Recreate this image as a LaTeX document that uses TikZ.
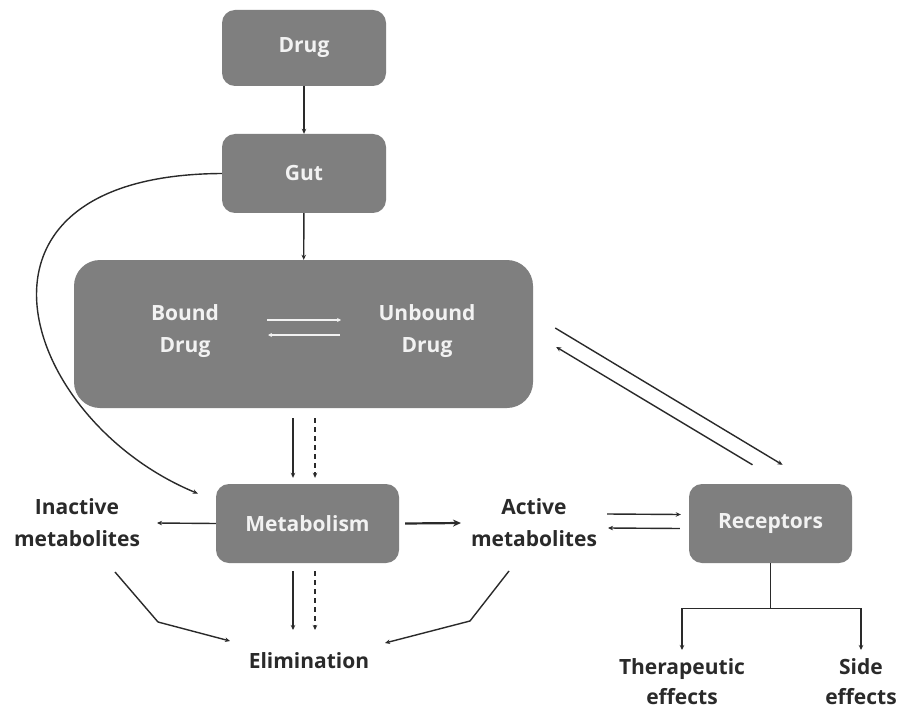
\documentclass[tikz,border=0pt]{standalone}
\usepackage{fontspec}
\setmainfont{Open Sans}
\usetikzlibrary{arrows.meta}
\definecolor{boxgray}{HTML}{7F7F7F}
\definecolor{boxtext}{HTML}{F2F2F2}
\definecolor{ink}{HTML}{2A2A2A}
\tikzset{
  box/.style={draw=none, fill=boxgray, rounded corners=13pt, text=boxtext, font=\fontsize{21}{32}\selectfont\bfseries, align=center, inner sep=0pt},
  lbl/.style={text=ink, font=\fontsize{21}{32}\selectfont\bfseries, align=center, inner sep=0pt},
  inlbl/.style={text=boxtext, font=\fontsize{21}{32}\selectfont\bfseries, align=center, inner sep=0pt},
  arr/.style={draw=ink, line width=1.4pt, -{Stealth[length=5pt,width=4.5pt]}},
  darr/.style={arr, dash pattern=on 5pt off 4pt},
  thickarr/.style={draw=ink, line width=2.2pt, -{Stealth[length=8pt,width=7pt]}},
  warr/.style={draw=boxtext, line width=1.5pt, -{Stealth[length=4pt,width=4pt]}},
  plain/.style={draw=ink, line width=1.4pt},
}
\begin{document}
\begin{tikzpicture}[x=1pt,y=-1pt]
\fill[white] (0,0) rectangle (901,711);
\useasboundingbox (0,0) rectangle (901,711);

% boxes
\node[box, minimum width=164pt, minimum height=76pt] (drug) at (304,48) {Drug};
\node[box, minimum width=164pt, minimum height=79pt] (gut) at (304,173.5) {Gut};
\node[box, rounded corners=26pt, minimum width=459pt, minimum height=148pt] (big) at (303.5,334) {};
\node[inlbl] (bound) at (185,331) {Bound\\Drug};
\node[inlbl] (unbound) at (427,331) {Unbound\\Drug};
\node[box, minimum width=183pt, minimum height=79pt] (meta) at (307.5,523.5) {Metabolism};
\node[box, minimum width=163pt, minimum height=79pt] (rec) at (770.5,523.5) {Receptors};

% labels
\node[lbl] (inact) at (77,523) {Inactive\\metabolites};
\node[lbl] (act) at (534,523) {Active\\metabolites};
\node[lbl] (elim) at (309,661) {Elimination};
\node[lbl, font=\fontsize{21}{30}\selectfont\bfseries] (ther) at (682,682) {Therapeutic\\effects};
\node[lbl, font=\fontsize{21}{30}\selectfont\bfseries] (side) at (861,682) {Side\\effects};

% connectors
\draw[arr] (drug) -- (gut);
\draw[arr] (gut) -- (big);
\draw[arr] (gut.west) .. controls (-60,175) and (20,420) .. ([shift={(-18,-30)}]meta.west);

\draw[warr] ([shift={(82,-11)}]bound.center) -- ([shift={(-86,-11)}]unbound.center);
\draw[warr] ([shift={(-87,4)}]unbound.center) -- ([shift={(83,4)}]bound.center);

\draw[arr] ([shift={(-10.5,10)}]big.south) -- ([shift={(-14.5,-6)}]meta.north);
\draw[darr] ([shift={(11.5,10)}]big.south) -- ([shift={(7.5,-6)}]meta.north);

\draw[arr] ([shift={(-14.5,8)}]meta.south) -- ([shift={(-16,-31)}]elim.center);
\draw[darr] ([shift={(7.5,8)}]meta.south) -- ([shift={(6,-31)}]elim.center);

\draw[arr] (meta.west) -- ([shift={(80,0)}]inact.center);
\draw[thickarr] ([shift={(6,0)}]meta.east) -- ([shift={(-73,0)}]act.center);

\draw[arr] ([shift={(38,49)}]inact.center) -- ++(43,50) -- ([shift={(-79,-20)}]elim.center);
\draw[arr] ([shift={(-25,48)}]act.center) -- ++(-39,50) -- ([shift={(76,-18)}]elim.center);

\draw[arr] ([shift={(73,-9)}]act.center) -- ([shift={(-8,-9)}]rec.west);
\draw[arr] ([shift={(-9,5)}]rec.west) -- ([shift={(74,5)}]act.center);

\draw[arr] ([shift={(22,-6)}]big.east) -- ([shift={(12,-19)}]rec.north);
\draw[arr] ([shift={(-18,-19)}]rec.north) -- ([shift={(23,13)}]big.east);

\draw[plain] (rec.south) -- ++(0,45) coordinate (branch);
\draw[arr] (branch) -| ([shift={(0,-32)}]ther.center);
\draw[arr] (branch) -| ([shift={(0,-32)}]side.center);
\end{tikzpicture}
\end{document}
